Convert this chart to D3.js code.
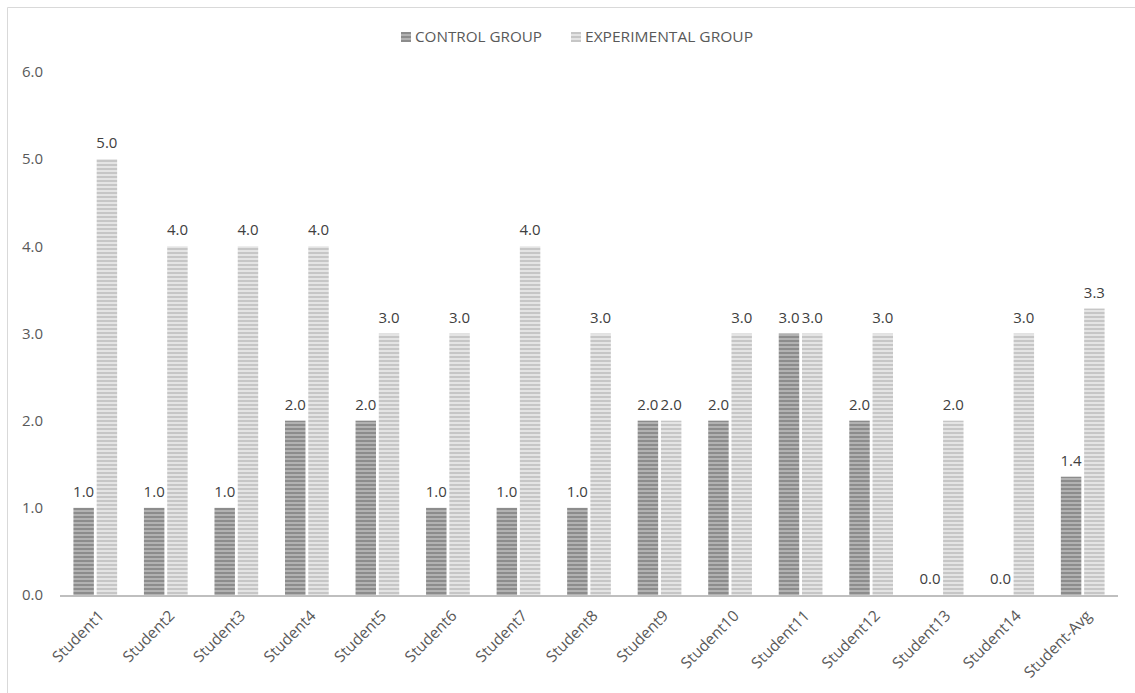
<!DOCTYPE html>
<html><head><meta charset="utf-8">
<script src="https://cdn.jsdelivr.net/npm/d3@7/dist/d3.min.js"></script>
<style>body{margin:0;background:#fff;} text{font-family:"Open Sans",sans-serif;}</style>
</head><body><svg id="c" width="1135" height="693"></svg>
<script>
const categories = ["Student1","Student2","Student3","Student4","Student5","Student6","Student7","Student8","Student9","Student10","Student11","Student12","Student13","Student14","Student-Avg"];
const controlGroup = [1,1,1,2,2,1,1,1,2,2,3,2,0,0,1.357];
const experimentalGroup = [5,4,4,4,3,3,4,3,2,3,3,3,2,3,3.286];
const seriesNames = ["CONTROL GROUP","EXPERIMENTAL GROUP"];
const yTicks = [0,1,2,3,4,5,6];

const svg = d3.select("#c");
svg.append("path").attr("d","M7.5,693V7.5H1135").attr("fill","none").attr("stroke","#d9d9d9");

const defs = svg.append("defs");
function stripes(id, a, b){
  const p = defs.append("pattern").attr("id",id).attr("patternUnits","userSpaceOnUse").attr("width",4).attr("height",4);
  p.append("rect").attr("width",4).attr("height",4).attr("fill",b);
  p.append("rect").attr("width",4).attr("height",2).attr("fill",a);
}
stripes("pc","#8c8c8c","#b2b2b2");
stripes("pe","#c6c6c6","#e4e4e4");
const fills = ["url(#pc)","url(#pe)"];

const x0 = d3.scaleBand().domain(categories).range([60,1118]).paddingInner(0.38).paddingOuter(0.19);
const x1 = d3.scaleBand().domain([0,1]).range([0,x0.bandwidth()]).paddingInner(0.12);
const y = d3.scaleLinear().domain([0,6]).range([595,72]);

svg.append("g").selectAll("text").data(yTicks).join("text")
  .attr("x",43).attr("y",d=>y(d)).attr("dy","0.35em").attr("text-anchor","end")
  .attr("fill","#595959").attr("font-size",15).text(d=>d.toFixed(1));

const data = categories.map((c,i)=>({c, v:[controlGroup[i],experimentalGroup[i]]}));
const g = svg.append("g");
data.forEach(d=>{
  d.v.forEach((v,k)=>{
    const bx = x0(d.c)+x1(k);
    g.append("rect").attr("x",bx).attr("y",y(v)).attr("width",x1.bandwidth()).attr("height",y(0)-y(v)).attr("fill",fills[k]);
    g.append("text").attr("x",bx+x1.bandwidth()/2).attr("y",y(v)-11).attr("text-anchor","middle")
      .attr("fill","#404040").attr("font-size",15).text(v.toFixed(1));
  });
});

svg.append("line").attr("x1",60).attr("x2",1118).attr("y1",596).attr("y2",596).attr("stroke","#bfbfbf").attr("stroke-width",2);

svg.append("g").selectAll("text").data(categories).join("text")
  .attr("transform",d=>`translate(${x0(d)+x0.bandwidth()/2+6},${613}) rotate(-45)`)
  .attr("text-anchor","end").attr("dy","0.35em")
  .attr("fill","#595959").attr("font-size",15.5).text(d=>d);

const leg = svg.append("g");
const legX = [401,571];
seriesNames.forEach((n,k)=>{
  leg.append("rect").attr("x",legX[k]).attr("y",32).attr("width",10).attr("height",10).attr("fill",fills[k]);
  leg.append("text").attr("x",legX[k]+14).attr("y",37).attr("dy","0.35em").attr("fill","#595959").attr("font-size",15).attr("textLength",k?168:127).attr("lengthAdjust","spacingAndGlyphs").text(n);
});
</script></body></html>
